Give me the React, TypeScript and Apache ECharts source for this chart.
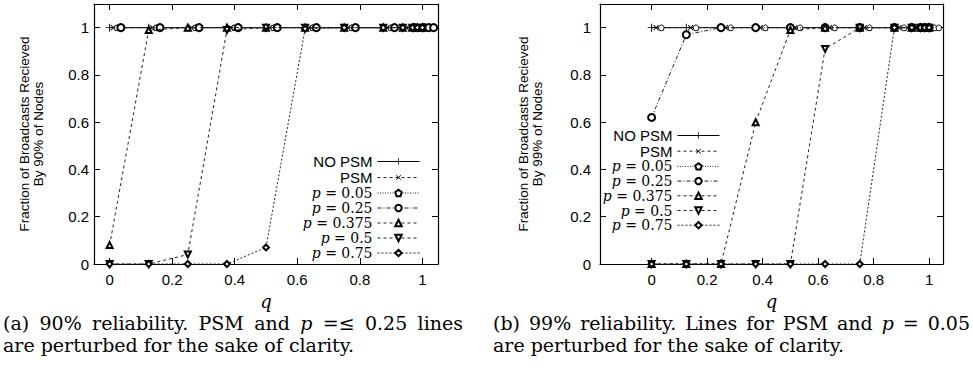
import React, { useEffect, useRef } from "react";
import * as echarts from "echarts";

// q values (x positions of the measurements)
const qValues = [0, 0.125, 0.25, 0.375, 0.5, 0.625, 0.75, 0.875, 0.9375, 0.96875, 0.984375, 1];

// Chart (a): 90% reliability
const aNoPsm = [1, 1, 1, 1, 1, 1, 1, 1, 1, 1, 1, 1];
const aPsm = [1, 1, 1, 1, 1, 1, 1, 1, 1, 1, 1, 1];
const aP005 = [1, 1, 1, 1, 1, 1, 1, 1, 1, 1, 1, 1];
const aP025 = [1, 1, 1, 1, 1, 1, 1, 1, 1, 1, 1, 1];
const aP0375 = [0.08, 0.99, 1, 1, 1, 1, 1, 1, 1, 1, 1, 1];
const aP05 = [0, 0, 0.04, 0.99, 1, 1, 1, 1, 1, 1, 1, 1];
const aP075 = [0, 0, 0, 0, 0.07, 0.995, 1, 1, 1, 1, 1, 1];
// perturbation of q used in chart (a) for clarity
const aShift = [0, 0.012, 0.024, 0.036, 0, 0, 0];

// Chart (b): 99% reliability
const bNoPsm = [1, 1, 1, 1, 1, 1, 1, 1, 1, 1, 1, 1];
const bPsm = [1, 1, 1, 1, 1, 1, 1, 1, 1, 1, 1, 1];
const bP005 = [1, 1, 1, 1, 1, 1, 1, 1, 1, 1, 1, 1];
const bP025 = [0.62, 0.97, 1, 1, 1, 1, 1, 1, 1, 1, 1, 1];
const bP0375 = [0, 0, 0, 0.6, 0.99, 1, 1, 1, 1, 1, 1, 1];
const bP05 = [0, 0, 0, 0, 0, 0.91, 1, 1, 1, 1, 1, 1];
const bP075 = [0, 0, 0, 0, 0, 0, 0, 1, 1, 1, 1, 1];
// perturbation of q used in chart (b) for clarity
const bShift = [0, 0.016, 0.035, 0, 0, 0, 0];

const seriesNames = ["NO PSM", "PSM", "p = 0.05", "p = 0.25", "p = 0.375", "p = 0.5", "p = 0.75"];
const xTicks = [0, 0.2, 0.4, 0.6, 0.8, 1];
const yTicks = [0, 0.2, 0.4, 0.6, 0.8, 1];

const captionA1 = ["(a)", "90%", "reliability.", "PSM", "and", "$p", "=≤", "0.25", "lines"];
const captionA2 = "are perturbed for the sake of clarity.";
const captionB1 = ["(b)", "99%", "reliability.", "Lines", "for", "PSM", "and", "$p", "=", "0.05"];
const captionB2 = "are perturbed for the sake of clarity.";

const PLUS = "path://M4.4,0H5.6V4.4H10V5.6H5.6V10H4.4V5.6H0V4.4H4.4Z";
const PENTA = "path://M5,0L10,3.8L8.1,10L1.9,10L0,3.8Z";

const styles: any[] = [
  { symbol: PLUS, size: 8, rotate: 0, dash: "solid", fill: "#000", bw: 0 },
  { symbol: PLUS, size: 7, rotate: 45, dash: [3, 3], fill: "#000", bw: 0 },
  { symbol: PENTA, size: 6, rotate: 0, dash: [1, 1.5], fill: "#fff", bw: 0.9 },
  { symbol: "emptyCircle", size: 7, rotate: 0, dash: [4, 2, 1, 2], fill: "#000", bw: 0.9 },
  { symbol: "emptyTriangle", size: 6, rotate: 0, dash: [3, 3], fill: "#000", bw: 0.9 },
  { symbol: "emptyTriangle", size: 6, rotate: 180, dash: [3, 3], fill: "#000", bw: 0.9 },
  { symbol: "emptyDiamond", size: 6, rotate: 0, dash: [2, 2], fill: "#000", bw: 0.9 },
];

function makeSeries(values: number[][], shifts: number[], idx: number) {
  return values.map((ys, i) => {
    const st = styles[i];
    return {
      type: "line",
      name: seriesNames[i],
      xAxisIndex: idx * 2,
      yAxisIndex: idx * 2,
      data: ys.map((y, k) => [qValues[k] + shifts[i], y]),
      symbol: st.symbol,
      symbolSize: st.size,
      symbolRotate: st.rotate,
      symbolKeepAspect: true,
      showAllSymbol: true,
      itemStyle: { color: st.fill, borderColor: "#000", borderWidth: st.bw },
      lineStyle: { color: i === 0 ? "#000" : "#222", width: 1, type: st.dash },
      emphasis: { disabled: true },
      z: 2 + i,
    };
  });
}

function axesFor(idx: number, xmin: number, labelMargin: number, nameGap: number, yName: string) {
  const line = { show: true, onZero: false, lineStyle: { color: "#000", width: 1.2 } };
  const tick = (vals: number[]) => ({ show: true, inside: true, length: 6, customValues: vals, lineStyle: { color: "#000", width: 1 } });
  const xAxes = [
    {
      type: "value", gridIndex: idx, min: xmin, max: 1.05, position: "bottom",
      axisLine: line, axisTick: tick(xTicks), splitLine: { show: false },
      axisLabel: { customValues: xTicks, color: "#000", fontFamily: "Liberation Sans", fontSize: 15, margin: 8 },
      name: "q", nameLocation: "middle", nameGap: 28,
      nameTextStyle: { fontFamily: "DejaVu Serif", fontStyle: "italic", fontSize: 18, color: "#000" },
    },
    {
      type: "value", gridIndex: idx, min: xmin, max: 1.05, position: "top",
      axisLine: line, axisTick: tick(xTicks), splitLine: { show: false }, axisLabel: { show: false },
    },
  ];
  const yAxes = [
    {
      type: "value", gridIndex: idx, min: 0, max: 1.1, position: "left",
      axisLine: line, axisTick: tick(yTicks), splitLine: { show: false },
      axisLabel: { customValues: yTicks, color: "#000", fontFamily: "Liberation Sans", fontSize: 15, margin: labelMargin },
      name: yName, nameLocation: "middle", nameGap: nameGap,
      nameTextStyle: { fontFamily: "Liberation Sans", fontSize: 13.5, lineHeight: 13.5, color: "#000" },
    },
    {
      type: "value", gridIndex: idx, min: 0, max: 1.1, position: "right",
      axisLine: line, axisTick: tick(yTicks), splitLine: { show: false }, axisLabel: { show: false },
    },
  ];
  return { xAxes, yAxes };
}

const legendRich = {
  s: { fontFamily: "Liberation Sans", fontSize: 15, color: "#000", lineHeight: 14 },
  i: { fontFamily: "DejaVu Serif", fontStyle: "italic", fontSize: 14, color: "#000", lineHeight: 14 },
  m: { fontFamily: "DejaVu Serif", fontSize: 14, color: "#000", lineHeight: 14 },
};
const legendFormatter = (name: string) =>
  name.startsWith("p") ? `{i|p}{m|${name.slice(1)}}` : `{s|${name}}`;

function makeLegend(right: number, top: number, gap: number) {
  return {
    orient: "vertical", align: "right", right, top, padding: 0,
    itemWidth: 42, itemHeight: 8, itemGap: gap,
    data: seriesNames, formatter: legendFormatter, selectedMode: false,
    lineStyle: { width: 1 },
    textStyle: { rich: legendRich },
  };
}

const CAP_FONT = 19;
const CAP_FAMILY = "DejaVu Serif";

function measure(text: string, italic: boolean) {
  const c = document.createElement("canvas").getContext("2d");
  if (!c) return text.length * CAP_FONT * 0.55;
  c.font = `${italic ? "italic " : ""}${CAP_FONT}px "${CAP_FAMILY}"`;
  return c.measureText(text).width;
}

// Justified caption line built from word tokens
function justified(words: string[], width: number) {
  const ws = words.map((w) => (w.startsWith("$") ? measure(w.slice(1), true) : measure(w, false)));
  const total = ws.reduce((s, v) => s + v, 0);
  const gap = Math.max(4, (width - total) / (words.length - 1));
  const rich: any = {
    r: { fontFamily: CAP_FAMILY, fontSize: CAP_FONT, color: "#000" },
    i: { fontFamily: CAP_FAMILY, fontStyle: "italic", fontSize: CAP_FONT, color: "#000" },
    g: { width: gap, fontSize: CAP_FONT },
  };
  const text = words
    .map((w) => (w.startsWith("$") ? `{i|${w.slice(1)}}` : `{r|${w}}`))
    .join("{g| }");
  return { text, rich };
}

const capRich = {
  r: { fontFamily: CAP_FAMILY, fontSize: CAP_FONT, color: "#000" },
};

export default function App() {
  const ref = useRef<HTMLDivElement>(null);
  useEffect(() => {
    if (!ref.current) return;
    const chart = echarts.init(ref.current, undefined, { renderer: "svg" });
    const a = axesFor(0, -0.05, 5, 49, "Fraction of Broadcasts Recieved\nBy 90% of Nodes");
    const b = axesFor(1, -0.186, 9, 56, "Fraction of Broadcasts Recieved\nBy 99% of Nodes");
    const capA = justified(captionA1, 460);
    const capB = justified(captionB1, 477);
    chart.setOption({
      animation: false,
      backgroundColor: "#fff",
      grid: [
        { left: 94, top: 4, width: 344, height: 260 },
        { left: 600, top: 4, width: 343, height: 260 },
      ],
      xAxis: [...a.xAxes, ...b.xAxes],
      yAxis: [...a.yAxes, ...b.yAxes],
      legend: [makeLegend(553, 154, 1), makeLegend(253, 128, 0.7)],
      series: [
        ...makeSeries([aNoPsm, aPsm, aP005, aP025, aP0375, aP05, aP075], aShift, 0),
        ...makeSeries([bNoPsm, bPsm, bP005, bP025, bP0375, bP05, bP075], bShift, 1),
      ],
      graphic: [
        { type: "text", left: 3, top: 313, style: { text: capA.text, rich: capA.rich } },
        { type: "text", left: 3, top: 335, style: { text: `{r|${captionA2}}`, rich: capRich } },
        { type: "text", left: 493, top: 313, style: { text: capB.text, rich: capB.rich } },
        { type: "text", left: 493, top: 335, style: { text: `{r|${captionB2}}`, rich: capRich } },
      ],
    });
    return () => chart.dispose();
  }, []);
  return (
    <div
      ref={ref}
      style={{ position: "fixed", left: 0, top: 0, width: 973, height: 371, background: "#fff" }}
    />
  );
}
